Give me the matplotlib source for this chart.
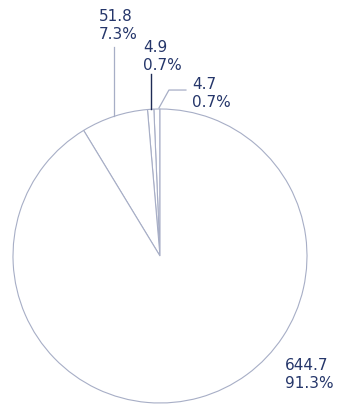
import numpy as np
import matplotlib.pyplot as plt

# segment values, drawn counter-clockwise from 12 o'clock
values = [4.7, 4.9, 51.8, 644.7]
# where each two-line label sits (figure pixels from top-left)
label_xy = [(192, 77), (143, 40), (99, 9), (285, 358)]

W, H = 338, 405
edge = "#a7aec6"
text_col = "#25366a"

fig = plt.figure(figsize=(W / 100, H / 100), dpi=100)
ax = fig.add_axes([0, 0, 1, 1])

cx, cy, r = 160, H - 256, 147
wedges, _ = ax.pie(values, startangle=90, counterclock=True, center=(cx, cy),
                   radius=r, frame=True,
                   wedgeprops=dict(facecolor="white", edgecolor=edge, linewidth=0.8))
ax.set_xlim(0, W)
ax.set_ylim(0, H)
ax.set_aspect("equal")
ax.axis("off")

total = sum(values)
for i, (v, w) in enumerate(zip(values, wedges)):
    lx, ly = label_xy[i]
    ax.text(lx, H - ly, f"{v}\n{v / total * 100:.1f}%", ha="left", va="top",
            fontsize=11, color=text_col, family="DejaVu Sans", linespacing=1.28)

    mid = np.deg2rad((w.theta1 + w.theta2) / 2)
    px, py = cx + r * np.cos(mid), cy + r * np.sin(mid)
    if i == 0:
        # short elbow leader to the right
        ax.plot([px + 2, px + 12, px + 29], [py + 1, py + 19, py + 19],
                color=edge, lw=0.9)
    elif i == 1:
        ax.plot([px, px], [py, H - 74], color="#1e2b55", lw=1.0)
    elif i == 2:
        ax.plot([px, px], [py, H - 47], color=edge, lw=0.9)

fig.savefig("out.png", dpi=100)
